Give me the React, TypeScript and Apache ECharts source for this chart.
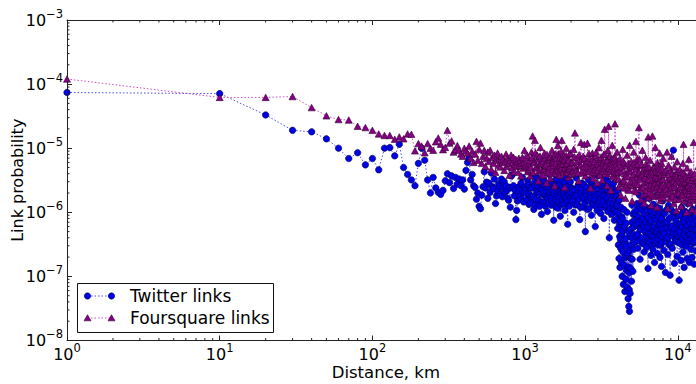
import React, { useEffect, useRef } from 'react';
import * as echarts from 'echarts';

type P = [number, number];

// Twitter links: distance (km) -> link probability
const twitterNear: P[] = [
  [1, 7.4e-5], [10, 7.1e-5], [20, 3.3e-5], [30, 1.9e-5], [40, 1.8e-5], [50, 1.4e-5], [60, 1.0e-5], [70, 6.9e-6],
  [80, 8.5e-6], [90, 5.5e-6], [100, 6.9e-6], [110, 4.6e-6], [120, 1.0e-5], [130, 1.02e-5], [140, 7.6e-6],
  [150, 1.15e-5], [160, 5.0e-6], [170, 3.9e-6], [180, 3.2e-6], [190, 2.6e-6], [200, 5.8e-6], [210, 1.0e-5],
  [220, 6.5e-6], [230, 3.2e-6], [240, 2.0e-6], [250, 3.5e-6], [260, 2.4e-6], [270, 2.05e-6], [280, 1.9e-6],
  [290, 2.2e-6],
];
const twitterMid: P[] = [
  [300, 3.1e-6], [310, 4.0e-6], [320, 2.9e-6], [330, 3.7e-6], [340, 2.35e-6], [350, 3.5e-6], [360, 2.75e-6],
  [370, 3.3e-6], [380, 2.6e-6], [390, 3.2e-6], [400, 2.3e-6], [410, 4.5e-6], [420, 6.0e-6], [430, 7.0e-6],
  [440, 3.2e-6], [450, 3.9e-6], [460, 2.6e-6], [470, 2.45e-6], [480, 1.6e-6], [490, 2.0e-6], [500, 1.24e-6],
  [510, 1.14e-6], [520, 1.85e-6], [530, 2.5e-6], [540, 4.3e-6], [550, 2.4e-6], [560, 2.95e-6], [570, 1.65e-6],
  [580, 2.85e-6], [590, 2.05e-6], [600, 4.1e-6], [610, 2.5e-6], [620, 2.35e-6], [630, 3.3e-6], [640, 1.37e-6],
  [650, 1.8e-6], [660, 2.15e-6], [670, 2.75e-6], [680, 2.55e-6], [690, 1.9e-6], [700, 3.3e-6], [710, 1.75e-6],
  [720, 2.4e-6], [730, 3.0e-6], [740, 2.05e-6], [750, 2.6e-6], [760, 2.2e-6], [770, 1.65e-6], [780, 1.54e-6],
  [790, 2.45e-6], [800, 1.2e-6], [810, 3.7e-6], [820, 3.8e-6], [830, 2.4e-6], [840, 2.6e-6], [850, 1.8e-6],
  [860, 2.2e-6], [870, 7.7e-7], [880, 1.07e-6], [890, 1.5e-6], [900, 2.05e-6], [910, 2.5e-6], [920, 2.2e-6],
  [930, 1.75e-6], [940, 2.85e-6], [950, 1.6e-6], [960, 3.5e-6], [970, 2.05e-6], [980, 1.45e-6], [990, 2.4e-6],
  [1000, 2.5e-6],
];
const twitterFar: P[] = [
  [1020, 1.95e-6], [1040, 3.1e-6], [1060, 1.33e-6], [1080, 2.4e-6], [1100, 1.75e-6], [1120, 3.7e-6],
  [1140, 1.11e-6], [1160, 2.6e-6], [1180, 1.6e-6], [1200, 3.45e-6], [1220, 2.05e-6], [1240, 1.24e-6],
  [1260, 2.85e-6], [1280, 9.3e-7], [1300, 2.2e-6], [1320, 3.2e-6], [1340, 1.43e-6], [1360, 1.85e-6],
  [1380, 2.5e-6], [1400, 1.03e-6], [1420, 1.65e-6], [1440, 3.9e-6], [1460, 2.3e-6], [1480, 1.29e-6],
  [1500, 3.0e-6], [1520, 1.8e-6], [1540, 7.5e-7], [1560, 2.45e-6], [1580, 1.54e-6], [1600, 3.3e-6],
  [1620, 1.95e-6], [1640, 1.16e-6], [1660, 2.75e-6], [1680, 1.75e-6], [1700, 8.7e-7], [1720, 2.2e-6],
  [1740, 3.1e-6], [1760, 1.37e-6], [1780, 1.9e-6], [1800, 2.4e-6], [1820, 1.07e-6], [1840, 1.6e-6],
  [1860, 3.55e-6], [1880, 2.1e-6], [1900, 6.5e-7], [1920, 2.6e-6], [1940, 1.29e-6], [1960, 1.85e-6],
  [1980, 3.0e-6], [2000, 1.5e-6], [2040, 2.3e-6], [2080, 1.0e-6], [2120, 1.8e-6], [2160, 3.45e-6],
  [2200, 1.33e-6], [2240, 2.45e-6], [2280, 7.7e-7], [2320, 2.05e-6], [2360, 2.85e-6], [2400, 1.2e-6],
  [2440, 1.65e-6], [2480, 5.0e-7], [2520, 2.2e-6], [2560, 1.11e-6], [2600, 3.2e-6], [2640, 1.5e-6],
  [2680, 1.9e-6], [2720, 9.0e-7], [2760, 2.5e-6], [2800, 1.29e-6], [2840, 1.75e-6], [2880, 6.0e-7],
  [2920, 2.4e-6], [2960, 1.07e-6], [3000, 3.7e-6], [3040, 1.54e-6], [3080, 1.95e-6], [3120, 9.6e-7],
  [3160, 2.6e-6], [3200, 1.33e-6], [3240, 1.8e-6], [3280, 8.0e-7], [3320, 2.3e-6], [3360, 1.2e-6],
  [3400, 3.3e-6], [3440, 1.6e-6], [3480, 1.03e-6], [3520, 2.05e-6], [3560, 4.0e-7], [3600, 1.43e-6],
  [3640, 2.5e-6], [3680, 9.3e-7], [3720, 1.85e-6], [3760, 1.16e-6], [3800, 2.85e-6], [3840, 7.5e-7],
  [3880, 1.54e-6], [3920, 2.1e-6], [3960, 1.0e-6], [4000, 1.75e-6],
];
const twitterFarB: P[] = [
  [1010, 2.2e-6], [1030, 1.6e-6], [1050, 2.7e-6], [1070, 1.9e-6], [1090, 1.4e-6], [1110, 2.4e-6], [1130, 1.75e-6],
  [1150, 2.9e-6], [1170, 1.3e-6], [1190, 2.1e-6], [1210, 2.6e-6], [1230, 1.55e-6], [1250, 1.95e-6], [1270, 2.3e-6],
  [1290, 1.45e-6], [1310, 2.75e-6], [1330, 1.85e-6], [1350, 1.25e-6], [1370, 2.2e-6], [1390, 1.7e-6], [1410, 2.5e-6],
  [1430, 1.35e-6], [1450, 2.05e-6], [1470, 2.8e-6], [1490, 1.6e-6], [1510, 2.25e-6], [1530, 1.4e-6], [1550, 1.95e-6],
  [1570, 2.65e-6], [1590, 1.2e-6], [1610, 2.35e-6], [1630, 1.8e-6], [1650, 1.5e-6], [1670, 2.15e-6], [1690, 2.7e-6],
  [1710, 1.3e-6], [1730, 1.9e-6], [1750, 2.45e-6], [1770, 1.55e-6], [1790, 2.0e-6], [1810, 1.35e-6], [1830, 2.85e-6],
  [1850, 1.7e-6], [1870, 2.3e-6], [1890, 1.45e-6], [1910, 1.9e-6], [1930, 2.55e-6], [1950, 1.25e-6], [1970, 2.1e-6],
  [1990, 1.65e-6], [2020, 2.4e-6], [2060, 1.5e-6], [2100, 2.2e-6], [2140, 1.3e-6], [2180, 1.85e-6], [2220, 2.6e-6],
  [2260, 1.6e-6], [2300, 1.2e-6], [2340, 2.3e-6], [2380, 1.75e-6], [2420, 2.7e-6], [2460, 1.4e-6], [2500, 1.95e-6],
  [2540, 2.45e-6], [2580, 1.55e-6], [2620, 1.15e-6], [2660, 2.25e-6], [2700, 1.7e-6], [2740, 2.8e-6], [2780, 1.35e-6],
  [2820, 2.05e-6], [2860, 1.6e-6], [2900, 2.5e-6], [2940, 1.25e-6], [2980, 1.9e-6], [3020, 2.35e-6], [3060, 1.45e-6],
  [3100, 2.65e-6], [3140, 1.65e-6], [3180, 1.2e-6], [3220, 2.15e-6], [3260, 1.5e-6], [3300, 2.55e-6], [3340, 1.8e-6],
  [3380, 1.3e-6], [3420, 2.3e-6], [3460, 1.7e-6], [3500, 2.9e-6], [3540, 1.4e-6], [3580, 1.95e-6], [3620, 1.15e-6],
  [3660, 2.2e-6], [3700, 1.6e-6], [3740, 2.45e-6], [3780, 1.35e-6], [3820, 1.85e-6], [3860, 1.1e-6], [3900, 2.0e-6],
  [3940, 1.45e-6], [3980, 1.25e-6],
];
const twitterDip: P[] = [
  [4020, 1.29e-6], [4040, 5.6e-7], [4060, 2.2e-6], [4080, 3.1e-7], [4100, 9.6e-7], [4120, 1.9e-7],
  [4140, 1.6e-6], [4160, 4.2e-7], [4180, 1.38e-7], [4200, 7.2e-7], [4225, 2.75e-7], [4250, 1.2e-6],
  [4275, 1.65e-7], [4300, 4.7e-7], [4325, 1.0e-7], [4350, 8.0e-7], [4375, 2.4e-7], [4400, 7.5e-8],
  [4425, 3.5e-7], [4450, 1.49e-7], [4475, 6.0e-7], [4500, 5.8e-8], [4525, 1.98e-7], [4550, 3.9e-7],
  [4575, 9.0e-8], [4600, 2.95e-7], [4625, 1.24e-7], [4650, 1.0e-6], [4675, 6.7e-8], [4700, 2.3e-7],
  [4725, 4.5e-8], [4750, 5.0e-7], [4775, 3.4e-8], [4800, 1.15e-7], [4825, 2.85e-8], [4850, 2.55e-7],
  [4875, 5.4e-8], [4900, 5.4e-7], [4925, 1.33e-7], [4950, 3.1e-7], [4975, 8.4e-8], [5000, 7.0e-7],
  [5025, 1.85e-7], [5050, 3.9e-7], [5075, 1.2e-7], [5100, 9.3e-7], [5150, 2.65e-7], [5200, 6.0e-7],
  [5250, 3.4e-7],
];
const twitterDipB: P[] = [
  [4010, 8.0e-7], [4090, 1.5e-6], [4150, 6.5e-7], [4210, 3.8e-7], [4290, 8.5e-7], [4360, 5.2e-7], [4440, 1.1e-6],
  [4510, 3.3e-7], [4590, 6.8e-7], [4660, 2.1e-7], [4740, 1.4e-7], [4810, 6.2e-8], [4860, 4.2e-7], [4940, 1.9e-7],
  [5010, 1.3e-6], [5060, 5.8e-7], [5120, 4.5e-7], [5180, 1.0e-6], [5230, 7.5e-7],
];
const twitterTail: P[] = [
  [5300, 9.3e-7], [5360, 4.2e-7], [5420, 1.37e-6], [5480, 2.75e-7], [5540, 7.0e-7], [5600, 1.85e-6],
  [5660, 1.85e-7], [5720, 5.4e-7], [5780, 1.07e-6], [5840, 3.3e-7], [5900, 8.0e-7], [5960, 1.54e-6],
  [6020, 2.4e-7], [6080, 6.0e-7], [6140, 3.75e-7], [6200, 1.2e-6], [6260, 2.85e-7], [6320, 8.7e-7],
  [6380, 1.33e-7], [6440, 4.7e-7], [6500, 1.65e-6], [6560, 3.5e-7], [6620, 7.2e-7], [6680, 2.13e-7],
  [6740, 1.0e-6], [6800, 4.2e-7], [6860, 2.65e-7], [6920, 1.33e-6], [6980, 5.6e-7], [7040, 1.65e-7],
  [7100, 8.0e-7], [7160, 3.65e-7], [7220, 1.8e-6], [7280, 5.0e-7], [7340, 2.3e-7], [7400, 9.3e-7],
  [7460, 3.1e-7], [7520, 6.3e-7], [7580, 1.16e-6], [7640, 1.98e-7], [7700, 4.4e-7], [7760, 7.7e-7],
  [7820, 1.43e-7], [7880, 3.4e-7], [7940, 1.5e-6], [8000, 5.4e-7], [8100, 2.55e-7], [8200, 9.6e-7],
  [8300, 1.15e-7], [8400, 4.0e-7], [8500, 7.0e-7], [8600, 2.2e-7], [8700, 1.29e-6], [8800, 3.1e-7],
  [8900, 1.04e-7], [9000, 5.8e-7], [9100, 1.07e-6], [9200, 2.75e-7], [9350, 9.3e-6], [9400, 4.7e-7],
  [9500, 1.6e-7], [9600, 8.0e-7], [9700, 3.5e-7], [9800, 1.6e-6], [9900, 2.05e-7], [10000, 5.2e-7],
  [10100, 9.0e-7], [10200, 8.7e-8], [10300, 3.3e-7], [10400, 6.5e-7], [10500, 1.78e-7], [10600, 1.2e-6],
  [10700, 3.9e-7], [10800, 2.4e-7], [10900, 7.7e-7], [11000, 1.38e-7], [11100, 4.8e-7], [11200, 1.03e-6],
  [11300, 2.95e-7], [11400, 6.0e-7], [11500, 1.9e-7], [11600, 1.37e-6], [11700, 3.65e-7], [11800, 7.5e-7],
  [11900, 1.65e-7], [12000, 4.5e-7], [12100, 1.0e-6], [12200, 2.65e-7], [12300, 5.6e-7], [12400, 1.98e-7],
  [12500, 1.11e-6], [12600, 3.3e-7], [12700, 6.7e-7], [12800, 1.55e-7], [12900, 4.2e-7], [13000, 9.0e-7],
  [13200, 2.5e-7], [13400, 5.2e-7], [13600, 1.24e-6], [13800, 3.05e-7], [14000, 5.8e-7], [14300, 1.9e-7],
  [14600, 8.0e-7],
];
const twitterTailB: P[] = [
  [5330, 6.5e-7], [5390, 1.1e-6], [5450, 4.5e-7], [5510, 8.5e-7], [5570, 3.6e-7], [5630, 1.2e-6], [5690, 5.5e-7],
  [5750, 7.8e-7], [5810, 4.0e-7], [5870, 1.3e-6], [5930, 6.2e-7], [5990, 3.2e-7], [6050, 9.5e-7], [6110, 5.0e-7],
  [6170, 7.0e-7], [6230, 4.3e-7], [6290, 1.05e-6], [6350, 5.8e-7], [6410, 8.2e-7], [6470, 3.4e-7], [6530, 6.8e-7],
  [6590, 1.15e-6], [6650, 4.6e-7], [6710, 7.4e-7], [6770, 3.0e-7], [6830, 9.0e-7], [6890, 5.3e-7], [6950, 4.0e-7],
  [7010, 1.0e-6], [7070, 6.0e-7], [7130, 3.3e-7], [7190, 7.6e-7], [7250, 4.8e-7], [7310, 1.2e-6], [7370, 5.6e-7],
  [7430, 3.8e-7], [7490, 8.6e-7], [7550, 4.4e-7], [7610, 6.6e-7], [7670, 1.0e-6], [7730, 3.1e-7], [7790, 5.4e-7],
  [7850, 8.0e-7], [7910, 4.2e-7], [7970, 6.4e-7], [8050, 9.8e-7], [8150, 4.6e-7], [8250, 6.9e-7], [8350, 3.5e-7],
  [8450, 1.1e-6], [8550, 5.7e-7], [8650, 4.0e-7], [8750, 7.9e-7], [8850, 5.0e-7], [8950, 3.2e-7], [9050, 8.4e-7],
  [9150, 6.1e-7], [9250, 4.3e-7], [9450, 1.0e-6], [9550, 5.5e-7], [9650, 3.7e-7], [9750, 7.2e-7], [9850, 4.7e-7],
  [9950, 9.3e-7], [10050, 3.4e-7], [10150, 6.3e-7], [10250, 4.9e-7], [10350, 8.8e-7], [10450, 4.1e-7],
  [10550, 6.7e-7], [10650, 3.1e-7], [10750, 5.9e-7], [10850, 1.05e-6], [10950, 4.4e-7], [11050, 7.1e-7],
  [11150, 3.6e-7], [11250, 5.3e-7], [11350, 8.3e-7], [11450, 4.0e-7], [11550, 6.4e-7], [11650, 3.3e-7],
  [11750, 5.0e-7], [11850, 9.0e-7], [11950, 4.6e-7], [12050, 6.9e-7], [12150, 3.8e-7], [12250, 5.6e-7],
  [12350, 8.0e-7], [12450, 4.2e-7], [12550, 6.1e-7], [12650, 3.5e-7], [12750, 4.8e-7], [12850, 8.6e-7],
  [12950, 5.4e-7], [13100, 3.7e-7], [13300, 7.3e-7], [13500, 4.5e-7], [13700, 6.3e-7], [13900, 3.9e-7],
  [14150, 8.1e-7], [14450, 4.7e-7],
];

// Foursquare links: distance (km) -> link probability
const foursquareNear: P[] = [
  [1, 1.2e-4], [10, 6.2e-5], [20, 6.2e-5], [30, 6.4e-5], [40, 4.3e-5], [50, 3.2e-5], [60, 2.8e-5], [70, 2.75e-5],
  [80, 2.2e-5], [90, 2.1e-5], [100, 1.9e-5], [110, 1.67e-5], [120, 1.58e-5], [130, 1.58e-5], [140, 1.38e-5],
  [150, 1.5e-5], [160, 1.4e-5], [170, 1.67e-5], [180, 1.65e-5], [190, 9.1e-6], [200, 1.18e-5], [210, 1.08e-5],
  [220, 8.5e-6], [230, 1.18e-5], [240, 1.0e-5], [250, 9.3e-6], [260, 1.26e-5], [270, 1.44e-5], [280, 1.15e-5],
  [290, 9.5e-6], [300, 1.03e-5], [310, 1.9e-5], [320, 1.2e-5], [330, 1.3e-5], [340, 8.7e-6], [350, 9.5e-6],
  [360, 1.1e-5], [370, 9.3e-6], [380, 8.1e-6], [390, 7.5e-6], [400, 1.0e-5], [410, 9.1e-6],
];
const foursquareMid: P[] = [
  [420, 8.4e-6], [430, 1.08e-5], [440, 7.0e-6], [450, 9.0e-6], [460, 6.0e-6], [470, 8.1e-6], [480, 1.28e-5],
  [490, 6.5e-6], [500, 9.6e-6], [510, 1.2e-5], [520, 5.8e-6], [530, 7.5e-6], [540, 9.3e-6], [550, 5.2e-6],
  [560, 7.0e-6], [570, 8.7e-6], [580, 6.2e-6], [590, 9.3e-6], [600, 4.7e-6], [610, 7.2e-6], [620, 5.8e-6],
  [630, 7.8e-6], [640, 4.2e-6], [650, 6.5e-6], [660, 8.4e-6], [670, 5.4e-6], [680, 7.0e-6], [690, 5.1e-6],
  [700, 7.5e-6], [710, 6.0e-6], [720, 6.7e-6], [730, 4.5e-6], [740, 6.2e-6], [750, 8.1e-6], [760, 5.2e-6],
  [770, 7.0e-6], [780, 5.8e-6], [790, 3.8e-6], [800, 6.5e-6], [810, 7.8e-6], [820, 4.9e-6], [830, 6.0e-6],
  [840, 7.2e-6], [850, 4.3e-6], [860, 5.6e-6], [870, 6.7e-6], [880, 5.2e-6], [890, 6.2e-6], [900, 4.2e-6],
  [910, 7.0e-6], [920, 5.4e-6], [930, 6.5e-6], [940, 3.7e-6], [950, 5.8e-6], [960, 7.2e-6], [970, 4.9e-6],
  [980, 6.0e-6], [990, 9.3e-6], [1000, 5.2e-6],
];
const foursquareFar: P[] = [
  [1020, 7.0e-6], [1040, 4.3e-6], [1060, 5.8e-6], [1080, 3.7e-6], [1100, 8.7e-6], [1120, 1.55e-5],
  [1140, 6.2e-6], [1160, 1.33e-5], [1180, 4.9e-6], [1200, 7.8e-6], [1220, 3.1e-6], [1240, 5.6e-6],
  [1260, 1.03e-5], [1280, 4.5e-6], [1300, 6.7e-6], [1320, 3.8e-6], [1340, 8.4e-6], [1360, 5.2e-6],
  [1380, 2.9e-6], [1400, 6.5e-6], [1420, 4.2e-6], [1440, 7.2e-6], [1460, 3.4e-6], [1480, 5.8e-6],
  [1500, 9.3e-6], [1520, 4.7e-6], [1540, 6.0e-6], [1560, 2.6e-6], [1580, 8.1e-6], [1600, 1.38e-5],
  [1620, 5.1e-6], [1640, 1.11e-5], [1660, 4.0e-6], [1680, 7.0e-6], [1700, 5.4e-6], [1720, 9.0e-6],
  [1740, 1.33e-5], [1760, 6.2e-6], [1780, 4.5e-6], [1800, 7.8e-6], [1820, 2.45e-6], [1840, 5.6e-6],
  [1860, 1.0e-5], [1880, 4.2e-6], [1900, 6.7e-6], [1920, 3.55e-6], [1940, 6.5e-6], [1960, 4.9e-6],
  [1980, 8.4e-6], [2000, 4.0e-6], [2040, 6.0e-6], [2080, 9.6e-6], [2120, 1.73e-5], [2160, 4.5e-6],
  [2200, 7.2e-6], [2240, 3.1e-6], [2280, 5.4e-6], [2320, 1.23e-5], [2360, 4.1e-6], [2400, 7.5e-6],
  [2440, 1.15e-5], [2480, 3.7e-6], [2520, 5.8e-6], [2560, 1.2e-5], [2600, 4.3e-6], [2640, 7.0e-6],
  [2680, 2.4e-6], [2720, 5.2e-6], [2760, 8.4e-6], [2800, 3.4e-6], [2840, 6.2e-6], [2880, 4.7e-6],
  [2920, 8.7e-6], [2960, 2.9e-6], [3000, 5.6e-6], [3040, 1.03e-5], [3080, 4.0e-6], [3120, 6.7e-6],
  [3160, 1.33e-5], [3200, 3.2e-6], [3240, 5.1e-6], [3280, 8.1e-6], [3320, 1.98e-5], [3360, 4.2e-6],
  [3400, 6.5e-6], [3440, 2.6e-6], [3480, 9.3e-6], [3520, 2.2e-5], [3560, 4.9e-6], [3600, 7.5e-6],
  [3640, 2.2e-6], [3680, 5.8e-6], [3720, 1.11e-5], [3760, 3.7e-6], [3800, 7.0e-6], [3840, 4.5e-6],
  [3880, 2.4e-5], [3920, 6.2e-6], [3960, 3.3e-6], [4000, 8.7e-6],
];
const foursquareFarB: P[] = [
  [1010, 5.5e-6], [1030, 7.8e-6], [1050, 4.6e-6], [1070, 6.4e-6], [1090, 5.0e-6], [1110, 7.2e-6], [1130, 4.2e-6],
  [1150, 6.0e-6], [1170, 8.5e-6], [1190, 5.3e-6], [1210, 6.8e-6], [1230, 4.4e-6], [1250, 7.5e-6], [1270, 5.8e-6],
  [1290, 3.9e-6], [1310, 6.2e-6], [1330, 4.8e-6], [1350, 7.0e-6], [1370, 5.5e-6], [1390, 8.0e-6], [1410, 4.5e-6],
  [1430, 6.6e-6], [1450, 5.1e-6], [1470, 7.4e-6], [1490, 4.0e-6], [1510, 6.1e-6], [1530, 5.4e-6], [1550, 7.8e-6],
  [1570, 4.3e-6], [1590, 5.9e-6], [1610, 6.9e-6], [1630, 4.6e-6], [1650, 8.2e-6], [1670, 5.2e-6], [1690, 3.8e-6],
  [1710, 6.4e-6], [1730, 4.9e-6], [1750, 7.1e-6], [1770, 5.6e-6], [1790, 4.2e-6], [1810, 6.5e-6], [1830, 5.0e-6],
  [1850, 7.6e-6], [1870, 4.4e-6], [1890, 5.8e-6], [1910, 6.8e-6], [1930, 4.7e-6], [1950, 8.1e-6], [1970, 5.3e-6],
  [1990, 3.9e-6], [2020, 5.9e-6], [2060, 4.4e-6], [2100, 7.3e-6], [2140, 5.1e-6], [2180, 6.2e-6], [2220, 4.1e-6],
  [2260, 7.9e-6], [2300, 5.5e-6], [2340, 6.6e-6], [2380, 4.6e-6], [2420, 5.2e-6], [2460, 7.0e-6], [2500, 4.3e-6],
  [2540, 6.3e-6], [2580, 5.0e-6], [2620, 8.3e-6], [2660, 4.8e-6], [2700, 6.0e-6], [2740, 3.9e-6], [2780, 6.9e-6],
  [2820, 5.4e-6], [2860, 4.2e-6], [2900, 7.6e-6], [2940, 5.6e-6], [2980, 4.5e-6], [3020, 6.7e-6], [3060, 5.1e-6],
  [3100, 3.8e-6], [3140, 7.2e-6], [3180, 5.8e-6], [3220, 4.4e-6], [3260, 6.1e-6], [3300, 4.9e-6], [3340, 8.0e-6],
  [3380, 5.3e-6], [3420, 4.0e-6], [3460, 6.5e-6], [3500, 5.0e-6], [3540, 7.4e-6], [3580, 4.3e-6], [3620, 5.9e-6],
  [3660, 4.7e-6], [3700, 6.8e-6], [3740, 5.2e-6], [3780, 3.7e-6], [3820, 6.3e-6], [3860, 4.8e-6], [3900, 7.1e-6],
  [3940, 5.5e-6], [3980, 4.1e-6],
];
const foursquareTail: P[] = [
  [4060, 4.2e-6], [4120, 2.5e-6], [4180, 7.0e-6], [4240, 1.85e-6], [4300, 5.1e-6], [4360, 9.6e-6],
  [4420, 3.1e-6], [4480, 5.8e-6], [4540, 1.65e-6], [4600, 3.8e-6], [4660, 7.8e-6], [4720, 2.3e-6],
  [4780, 4.7e-6], [4840, 1.11e-5], [4900, 2.9e-6], [4960, 6.2e-6], [5020, 1.5e-6], [5080, 3.55e-6],
  [5140, 8.7e-6], [5200, 2.2e-6], [5260, 5.2e-6], [5320, 1.28e-5], [5380, 2.75e-6], [5440, 6.9e-6],
  [5500, 4.1e-6], [5560, 2.1e-5], [5620, 6.7e-6], [5680, 3.3e-6], [5740, 1.6e-6], [5800, 5.6e-6],
  [5860, 9.3e-6], [5920, 2.45e-6], [5980, 4.5e-6], [6040, 1.4e-6], [6100, 3.7e-6], [6160, 7.2e-6],
  [6220, 2.0e-6], [6280, 4.9e-6], [6340, 3.0e-6], [6400, 1.5e-5], [6460, 1.7e-6], [6520, 4.0e-6],
  [6580, 6.5e-6], [6640, 2.4e-6], [6700, 1.29e-6], [6760, 4.3e-6], [6820, 1.55e-5], [6880, 2.6e-6],
  [6940, 5.2e-6], [7000, 1.8e-6], [7060, 3.4e-6], [7120, 1.03e-5], [7180, 2.3e-6], [7240, 4.2e-6],
  [7300, 1.2e-6], [7360, 6.0e-6], [7420, 2.9e-6], [7480, 1.9e-6], [7540, 4.7e-6], [7600, 8.4e-6],
  [7660, 2.5e-6], [7720, 1.54e-6], [7780, 3.8e-6], [7840, 5.8e-6], [7900, 2.0e-6], [7960, 3.2e-6],
  [8020, 7.0e-6], [8100, 1.7e-6], [8200, 4.3e-6], [8300, 2.6e-6], [8400, 2.3e-6], [8500, 8.7e-6],
  [8600, 1.16e-6], [8700, 5.4e-6], [8800, 2.75e-6], [8900, 1.65e-6], [9000, 4.5e-6], [9100, 7.5e-6],
  [9200, 1.95e-6], [9300, 3.2e-6], [9400, 1.37e-6], [9500, 5.1e-6], [9600, 2.45e-6], [9700, 4.0e-6],
  [9800, 1.07e-6], [9900, 6.2e-6], [10000, 2.1e-6], [10100, 3.4e-6], [10200, 1.6e-6], [10300, 4.7e-6],
  [10400, 2.5e-6], [10500, 1.24e-6], [10600, 4.2e-6], [10700, 1.9e-6], [10800, 5.8e-6], [10900, 1.15e-5],
  [11000, 2.9e-6], [11100, 1.5e-6], [11200, 3.7e-6], [11300, 2.2e-6], [11400, 1.0e-6], [11500, 4.9e-6],
  [11600, 2.6e-6], [11700, 1.7e-6], [11800, 6.7e-6], [11900, 3.3e-6], [12000, 1.4e-6], [12100, 2.4e-6],
  [12200, 4.3e-6], [12300, 1.8e-6], [12400, 1.11e-6], [12500, 3.55e-6], [12700, 1.23e-5], [12750, 2.3e-6],
  [12800, 1.54e-6], [12900, 4.0e-6], [13000, 2.0e-6], [13200, 1.03e-6], [13400, 3.1e-6], [13600, 5.2e-6],
  [13800, 1.65e-6], [14000, 2.5e-6], [14300, 1.29e-6], [14600, 3.4e-6],
];
const foursquareTailB: P[] = [
  [4030, 5.0e-6], [4090, 3.3e-6], [4150, 5.9e-6], [4210, 2.8e-6], [4270, 4.4e-6], [4330, 3.0e-6], [4390, 6.3e-6],
  [4450, 2.4e-6], [4510, 4.0e-6], [4570, 5.4e-6], [4630, 2.7e-6], [4690, 3.6e-6], [4750, 5.8e-6], [4810, 2.2e-6],
  [4870, 4.3e-6], [4930, 3.1e-6], [4990, 5.1e-6], [5050, 2.6e-6], [5110, 3.9e-6], [5170, 6.0e-6], [5230, 2.9e-6],
  [5290, 4.6e-6], [5350, 2.1e-6], [5410, 3.5e-6], [5470, 5.6e-6], [5530, 2.7e-6], [5590, 4.2e-6], [5650, 2.3e-6],
  [5710, 3.7e-6], [5770, 5.3e-6], [5830, 2.5e-6], [5890, 3.9e-6], [5950, 1.9e-6], [6010, 4.8e-6], [6070, 2.9e-6],
  [6130, 3.4e-6], [6190, 5.7e-6], [6250, 2.2e-6], [6310, 4.1e-6], [6370, 2.6e-6], [6430, 3.3e-6], [6490, 5.0e-6],
  [6550, 2.0e-6], [6610, 3.8e-6], [6670, 2.7e-6], [6730, 4.5e-6], [6790, 1.9e-6], [6850, 3.2e-6], [6910, 4.0e-6],
  [6970, 2.4e-6], [7030, 5.1e-6], [7090, 2.8e-6], [7150, 3.6e-6], [7210, 1.8e-6], [7270, 4.4e-6], [7330, 2.5e-6],
  [7390, 3.4e-6], [7450, 5.3e-6], [7510, 2.1e-6], [7570, 3.0e-6], [7630, 4.2e-6], [7690, 2.3e-6], [7750, 3.7e-6],
  [7810, 1.7e-6], [7870, 4.8e-6], [7930, 2.6e-6], [7990, 3.3e-6], [8050, 2.1e-6], [8150, 3.9e-6], [8250, 2.5e-6],
  [8350, 4.6e-6], [8450, 1.9e-6], [8550, 3.2e-6], [8650, 2.7e-6], [8750, 4.2e-6], [8850, 2.0e-6], [8950, 3.5e-6],
  [9050, 2.4e-6], [9150, 4.0e-6], [9250, 1.8e-6], [9350, 3.0e-6], [9450, 2.6e-6], [9550, 3.8e-6], [9650, 1.6e-6],
  [9750, 2.9e-6], [9850, 3.6e-6], [9950, 2.2e-6], [10050, 4.4e-6], [10150, 2.0e-6], [10250, 3.1e-6], [10350, 2.4e-6],
  [10450, 3.7e-6], [10550, 1.8e-6], [10650, 2.8e-6], [10750, 3.4e-6], [10850, 2.1e-6], [10950, 4.1e-6],
  [11050, 2.3e-6], [11150, 3.0e-6], [11250, 1.7e-6], [11350, 3.6e-6], [11450, 2.5e-6], [11550, 2.0e-6],
  [11650, 3.3e-6], [11750, 2.6e-6], [11850, 1.9e-6], [11950, 3.9e-6], [12050, 2.2e-6], [12150, 2.9e-6],
  [12250, 1.6e-6], [12350, 3.2e-6], [12450, 2.4e-6], [12550, 1.9e-6], [12650, 3.5e-6], [12850, 2.7e-6],
  [12950, 1.8e-6], [13100, 3.0e-6], [13300, 2.2e-6], [13500, 1.6e-6], [13700, 2.8e-6], [13900, 2.0e-6],
  [14150, 3.3e-6], [14450, 2.1e-6],
];

const byDistance = (a: P, b: P) => a[0] - b[0];
const twitterData: P[] = [
  ...twitterNear, ...twitterMid, ...twitterFar, ...twitterFarB, ...twitterDip, ...twitterDipB, ...twitterTail, ...twitterTailB,
].sort(byDistance);
const foursquareData: P[] = [
  ...foursquareNear, ...foursquareMid, ...foursquareFar, ...foursquareFarB, ...foursquareTail, ...foursquareTailB,
].sort(byDistance);

const seriesNames = ['Twitter links', 'Foursquare links'];
const xAxisTitle = 'Distance, km';
const yAxisTitle = 'Link probability';

const xMinorTicks = [2, 3, 4, 5, 6, 7, 8, 9, 20, 30, 40, 50, 60, 70, 80, 90, 200, 300, 400, 500, 600, 700, 800, 900,
  2000, 3000, 4000, 5000, 6000, 7000, 8000, 9000];
const yMinorTicks = [2e-8, 3e-8, 4e-8, 5e-8, 6e-8, 7e-8, 8e-8, 9e-8, 2e-7, 3e-7, 4e-7, 5e-7, 6e-7, 7e-7, 8e-7, 9e-7,
  2e-6, 3e-6, 4e-6, 5e-6, 6e-6, 7e-6, 8e-6, 9e-6, 2e-5, 3e-5, 4e-5, 5e-5, 6e-5, 7e-5, 8e-5, 9e-5,
  2e-4, 3e-4, 4e-4, 5e-4, 6e-4, 7e-4, 8e-4, 9e-4];

const X_MIN = 1;
const X_MAX = 15000;
const Y_MIN = 1e-8;
const Y_MAX = 1e-3;

const FONT = 'DejaVu Sans';
const SPINE = '#222';
const BLUE_FILL = '#0000e6';
const BLUE_EDGE = '#000050';
const BLUE_LINE = '#4a4aff';
const PURPLE_FILL = '#850085';
const PURPLE_EDGE = '#300030';
const PURPLE_LINE = '#c850c8';

function powLabel(v: number): string {
  const l = Math.log10(v);
  const e = Math.round(l);
  if (Math.abs(l - e) > 1e-6) return '';
  const s = e < 0 ? '\u2212' + String(-e) : String(e);
  return '{b|10}{s|' + s + '}';
}

export default function App() {
  const ref = useRef<HTMLDivElement>(null);
  useEffect(() => {
    if (!ref.current) return;
    const chart = echarts.init(ref.current, null, { renderer: 'svg' });
    const rich = {
      b: { fontSize: 16, fontFamily: FONT, color: '#000', lineHeight: 25 },
      s: { fontSize: 11.5, fontFamily: FONT, color: '#000', lineHeight: 11, verticalAlign: 'top' },
    };
    const tickLine = (x1: number, y1: number, x2: number, y2: number) => ({
      type: 'line', shape: { x1, y1, x2, y2 }, style: { stroke: SPINE, lineWidth: 1 },
    });
    const option: any = {
      animation: false,
      backgroundColor: '#fff',
      grid: { left: 67, top: 20, width: 637.7, height: 320.5, outerBoundsMode: 'none', containLabel: false },
      xAxis: [
        {
          type: 'log', logBase: 10, min: X_MIN, max: X_MAX, position: 'bottom',
          name: xAxisTitle, nameLocation: 'middle', nameGap: 23, nameMoveOverlap: false,
          nameTextStyle: { fontSize: 16.5, fontFamily: FONT, color: '#000' },
          axisLine: { show: true, lineStyle: { color: SPINE, width: 1 } },
          axisTick: { show: true, inside: true, length: 5, lineStyle: { color: SPINE, width: 1 } },
          axisLabel: { formatter: powLabel, rich, margin: 1, showMaxLabel: false },
          splitLine: { show: false },
          minorTick: { show: false },
        },
        {
          type: 'log', logBase: 10, min: X_MIN, max: X_MAX, position: 'top',
          axisLine: { show: true, lineStyle: { color: SPINE, width: 1 } },
          axisTick: { show: true, inside: true, length: 5, lineStyle: { color: SPINE, width: 1 } },
          axisLabel: { show: false },
          splitLine: { show: false },
        },
      ],
      yAxis: [
        {
          type: 'log', logBase: 10, min: Y_MIN, max: Y_MAX,
          name: yAxisTitle, nameLocation: 'middle', nameGap: 41.5, nameMoveOverlap: false,
          nameTextStyle: { fontSize: 16, fontFamily: FONT, color: '#000' },
          axisLine: { show: true, lineStyle: { color: SPINE, width: 1 } },
          axisTick: { show: true, inside: true, length: 5, lineStyle: { color: SPINE, width: 1 } },
          axisLabel: { formatter: powLabel, rich, margin: 4 },
          splitLine: { show: false },
        },
      ],
      series: [
        {
          name: seriesNames[0], type: 'line', data: twitterData, xAxisIndex: 0, yAxisIndex: 0,
          symbol: 'circle', symbolSize: 6.5, showSymbol: true, showAllSymbol: true,
          lineStyle: { color: BLUE_LINE, width: 1, type: [1.5, 2] },
          itemStyle: { color: BLUE_FILL, borderColor: BLUE_EDGE, borderWidth: 0.6 },
          emphasis: { disabled: true }, silent: true,
        },
        {
          name: seriesNames[1], type: 'line', data: foursquareData, xAxisIndex: 0, yAxisIndex: 0,
          symbol: 'triangle', symbolSize: [7, 6.5], showSymbol: true, showAllSymbol: true,
          lineStyle: { color: PURPLE_LINE, width: 1, type: [1.5, 2] },
          itemStyle: { color: PURPLE_FILL, borderColor: PURPLE_EDGE, borderWidth: 0.6 },
          emphasis: { disabled: true }, silent: true,
        },
        {
          type: 'custom', silent: true, clip: false, xAxisIndex: 0, yAxisIndex: 0, z: 5,
          data: xMinorTicks.map((v) => [v, Y_MIN]),
          renderItem: (_p: any, api: any) => {
            const v = api.value(0);
            const b = api.coord([v, Y_MIN]);
            const t = api.coord([v, Y_MAX]);
            return {
              type: 'group',
              children: [tickLine(b[0], b[1], b[0], b[1] - 2.5), tickLine(t[0], t[1], t[0], t[1] + 2.5)],
            };
          },
        },
        {
          type: 'custom', silent: true, clip: false, xAxisIndex: 0, yAxisIndex: 0, z: 5,
          data: yMinorTicks.map((v) => [X_MIN, v]),
          renderItem: (_p: any, api: any) => {
            const v = api.value(1);
            const l = api.coord([X_MIN, v]);
            return { type: 'group', children: [tickLine(l[0], l[1], l[0] + 2.5, l[1])] };
          },
        },
      ],
      graphic: [
        {
          type: 'group', z: 100,
          children: [
            { type: 'rect', shape: { x: 77.5, y: 283.5, width: 196, height: 49 }, style: { fill: '#fff', stroke: '#111', lineWidth: 1 } },
            { type: 'line', shape: { x1: 87.5, y1: 296, x2: 111.5, y2: 296 }, style: { stroke: BLUE_LINE, lineWidth: 1, lineDash: [1.5, 2] } },
            { type: 'circle', shape: { cx: 87.5, cy: 296, r: 3.2 }, style: { fill: BLUE_FILL, stroke: BLUE_EDGE, lineWidth: 0.6 } },
            { type: 'circle', shape: { cx: 111.5, cy: 296, r: 3.2 }, style: { fill: BLUE_FILL, stroke: BLUE_EDGE, lineWidth: 0.6 } },
            { type: 'text', x: 130, y: 295.5, style: { text: seriesNames[0], fontSize: 17, fontFamily: FONT, fill: '#000', verticalAlign: 'middle' } },
            { type: 'line', shape: { x1: 87.5, y1: 318, x2: 111.5, y2: 318 }, style: { stroke: PURPLE_LINE, lineWidth: 1, lineDash: [1.5, 2] } },
            { type: 'polygon', shape: { points: [[87.5, 314.7], [91, 320.8], [84, 320.8]] }, style: { fill: PURPLE_FILL, stroke: PURPLE_EDGE, lineWidth: 0.6 } },
            { type: 'polygon', shape: { points: [[111.5, 314.7], [115, 320.8], [108, 320.8]] }, style: { fill: PURPLE_FILL, stroke: PURPLE_EDGE, lineWidth: 0.6 } },
            { type: 'text', x: 130, y: 317.6, style: { text: seriesNames[1], fontSize: 17, fontFamily: FONT, fill: '#000', verticalAlign: 'middle' } },
          ],
        },
      ],
    };
    chart.setOption(option);
    return () => chart.dispose();
  }, []);
  return (
    <div
      ref={ref}
      style={{ position: 'fixed', left: 0, top: 0, width: 696, height: 384, background: '#fff' }}
    />
  );
}
